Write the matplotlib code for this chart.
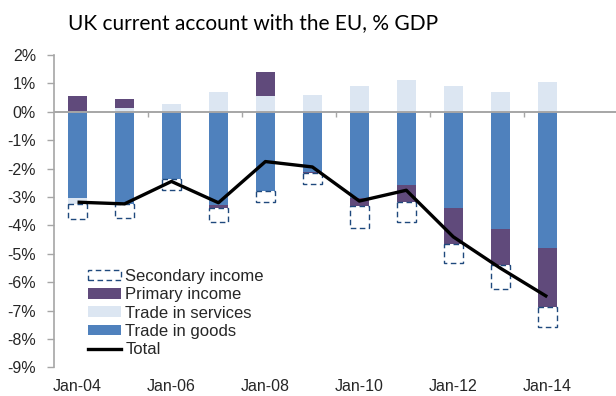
import matplotlib
matplotlib.use('Agg')
import matplotlib.pyplot as plt
import numpy as np
from matplotlib.patches import Patch
from matplotlib.lines import Line2D

# UK current account balance with the EU by component, % of GDP
years = ['Jan-04', 'Jan-05', 'Jan-06', 'Jan-07', 'Jan-08', 'Jan-09',
         'Jan-10', 'Jan-11', 'Jan-12', 'Jan-13', 'Jan-14']
goods = [-3.03, -3.23, -2.35, -3.29, -2.80, -2.12, -3.03, -2.56, -3.38, -4.14, -4.81]
services = [-0.23, 0.12, 0.27, 0.69, 0.57, 0.60, 0.91, 1.12, 0.91, 0.71, 1.04]
primary = [0.56, 0.35, 0.02, -0.10, 0.83, -0.05, -0.29, -0.62, -1.29, -1.25, -2.05]
secondary = [-0.50, -0.50, -0.39, -0.50, -0.39, -0.37, -0.76, -0.70, -0.66, -0.83, -0.71]
total = [-3.18, -3.24, -2.45, -3.20, -1.75, -1.94, -3.14, -2.76, -4.40, -5.50, -6.51]

c_goods = '#4f81bd'
c_serv = '#dce6f2'
c_prim = '#604a7b'
c_sec = '#1f497d'
grey = '#a6a6a6'
txt = '#262626'

plt.rcParams['font.family'] = ['Liberation Sans', 'DejaVu Sans']

fig = plt.figure(figsize=(6.16, 3.96), dpi=100)
ax = fig.add_axes([0.0877, 0.072, 0.915, 0.789])

x = np.arange(len(years))
w = 0.4
pos_base = np.zeros(len(years))
neg_base = np.zeros(len(years))

# stack each component on the positive or negative pile, like Excel does
for vals, col, sec in [(goods, c_goods, False), (services, c_serv, False),
                       (primary, c_prim, False), (secondary, 'white', True)]:
    vals = np.array(vals)
    base = np.where(vals >= 0, pos_base, neg_base)
    if sec:
        ax.bar(x, vals, w, bottom=base, facecolor='white', edgecolor=c_sec,
               linewidth=1.0, linestyle=(0, (4, 2.5)), zorder=2)
    else:
        ax.bar(x, vals, w, bottom=base, color=col, edgecolor='none', zorder=2)
    pos_base = pos_base + np.where(vals >= 0, vals, 0)
    neg_base = neg_base + np.where(vals < 0, vals, 0)

ax.plot(x, total, color='black', lw=2.4, zorder=4, solid_capstyle='butt')

ax.set_xlim(-0.5, 11.5)
ax.set_ylim(-9, 2)

# zero line with small category ticks every two years
ax.axhline(0, color=grey, lw=1.4, zorder=3)
ax.vlines(np.arange(1.5, 11, 2), -0.18, 0, color=grey, lw=1.0, zorder=3)

ax.set_yticks(np.arange(-9, 3, 1))
ax.set_yticklabels([f'{v}%' for v in range(-9, 3)])
ax.set_xticks(x[::2])
ax.set_xticklabels(years[::2])
ax.tick_params(axis='x', length=0, pad=8, labelsize=11.5, colors=txt)
ax.tick_params(axis='y', length=5, width=1.0, color=grey, pad=8, labelsize=11.5,
               labelcolor=txt)

for s in ['top', 'right', 'bottom']:
    ax.spines[s].set_visible(False)
ax.spines['left'].set_color(grey)
ax.spines['left'].set_linewidth(1.2)

handles = [
    Patch(facecolor='white', edgecolor=c_sec, linestyle=(0, (4, 2.5)), linewidth=1.0),
    Patch(facecolor=c_prim, edgecolor='none'),
    Patch(facecolor=c_serv, edgecolor='none'),
    Patch(facecolor=c_goods, edgecolor='none'),
    Line2D([0], [0], color='black', lw=2.4),
]
labels = ['Secondary income', 'Primary income', 'Trade in services',
          'Trade in goods', 'Total']
leg = ax.legend(handles, labels, loc='lower left', bbox_to_anchor=(0.06, 0.033),
                frameon=False, fontsize=12, handlelength=2.0, handleheight=0.6,
                handletextpad=0.25, labelspacing=0.2, borderaxespad=0,
                borderpad=0)
for t in leg.get_texts():
    t.set_color(txt)

fig.text(0.11, 0.942, 'UK current account with the EU, % GDP', fontsize=15,
         family=['Lato', 'DejaVu Sans'], color='black', va='center', ha='left')

fig.savefig('out.png', dpi=100)
plt.close(fig)
